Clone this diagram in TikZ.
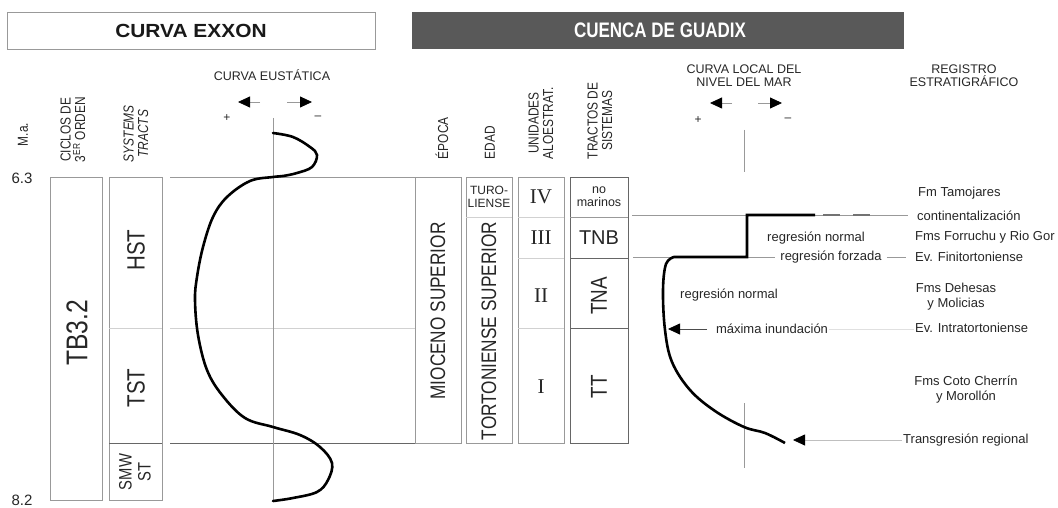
\documentclass[tikz,border=0pt]{standalone}
\usepackage{fontspec}
\setmainfont{Liberation Sans}
\newfontfamily\romfont{Liberation Serif}
\usetikzlibrary{arrows.meta}
\newcommand{\fsz}[2]{\fontsize{#1}{#2}\selectfont}
\begin{document}
\begin{tikzpicture}[x=1pt,y=-1pt,
  frame/.style={draw=black!40, line width=0.8pt},
  faint/.style={draw=black!18, line width=0.8pt},
  firm/.style={draw=black!60, line width=0.8pt},
  bigcurve/.style={line width=2.6pt, black, line cap=round},
  lbl/.style={text=black!85, inner sep=1pt, font=\fsz{12.5}{14}},
  vtxt/.style={rotate=90, xscale=0.82},
  colhead/.style={lbl, vtxt, anchor=west, align=center, font=\fsz{14.5}{14.5}},
  roman/.style={text=black!85, inner sep=1pt, font=\romfont\fsz{21}{21}},
  tri/.style={-{Triangle[length=12pt,width=11pt,color=black]}},
  sign/.style={lbl, font=\fsz{12}{12}},
]
\useasboundingbox (0,0) rectangle (1058,508);

% ---- headers
\draw[frame] (7,12) rectangle (375,49);
\node[text=black!90, inner sep=0pt, xscale=1.1, font=\bfseries\fsz{19}{19}] (exxon) at (191,30.5) {CURVA EXXON};
\fill[black!65] (412,12) rectangle (904,49);
\node[text=white, inner sep=0pt, xscale=0.81, font=\bfseries\fsz{21}{21}] (guadix) at (660,30.5) {CUENCA DE GUADIX};

% ---- column headings
\node[colhead] (ma) at (23,147) {M.a.};
\node[colhead] (ciclos) at (73,163) {CICLOS DE\\3\textsuperscript{ER} ORDEN};
\node[colhead, font=\fsz{14.5}{14.5}\itshape] (systems) at (136,163) {SYSTEMS\\TRACTS};
\node[colhead] (epoca) at (442,160) {ÉPOCA};
\node[colhead] (edad) at (490,160) {EDAD};
\node[colhead] (unid) at (541,160) {UNIDADES\\ALOESTRAT.};
\node[colhead] (tract) at (600,160) {TRACTOS DE\\SISTEMAS};
\node[lbl] (ceust) at (272,75) {CURVA EUSTÁTICA};
\node[lbl, align=center, font=\fsz{12.5}{13}] (clocal) at (744,76) {CURVA LOCAL DEL\\NIVEL DEL MAR};
\node[lbl, align=center, font=\fsz{12.5}{13}] (regis) at (964,76) {REGISTRO\\ESTRATIGRÁFICO};

% small direction arrows
\coordinate (a1s) at (260,102); \coordinate (a1e) at (238,102);
\coordinate (a2s) at (287,102); \coordinate (a2e) at (312,102);
\draw[frame, tri] (a1s) -- (a1e);
\draw[frame, tri] (a2s) -- (a2e);
\node[sign] (plus1) at (227,118) {+};
\node[sign] (minus1) at (318,118) {–};
\coordinate (b1s) at (732,103); \coordinate (b1e) at (710,103);
\coordinate (b2s) at (758,103); \coordinate (b2e) at (782,103);
\draw[frame, tri] (b1s) -- (b1e);
\draw[frame, tri] (b2s) -- (b2e);
\node[sign] (plus2) at (698,120) {+};
\node[sign] (minus2) at (788,120) {–};

% ---- ages
\node[lbl, font=\fsz{15}{15}] (t63) at (22,178) {6.3};
\node[lbl, font=\fsz{15}{15}] (t82) at (22,500) {8.2};

% ---- Exxon columns
\draw[frame] (50,177) rectangle (102,500);
\node[lbl, vtxt, font=\fsz{30}{30}] (tb) at (77,333) {TB3.2};
\draw[frame] (109,177) rectangle (162,500);
\draw[faint] (109,328) -- (162,328);
\draw[firm] (109,443) -- (162,443);
\node[lbl, vtxt, font=\fsz{25}{25}] (hst) at (136,250) {HST};
\node[lbl, vtxt, font=\fsz{25}{25}] (tst) at (136,388) {TST};
\node[lbl, vtxt, align=center, font=\fsz{18}{19}] (smw) at (135,472) {SMW\\ST};

\draw[frame] (170,177) -- (415,177);
\draw[faint] (170,328) -- (415,328);
\draw[firm] (170,443) -- (415,443);
\draw[frame] (273,118) -- (273,500);

\draw[bigcurve] plot[smooth, tension=0.6] coordinates {(273,133) (293,137) (310,147) (317,155) (312,167) (297,173) (283,176) (273,177) (250,181) (227,197) (213,217) (203,247) (197,277) (195,300) (198,335) (207,370) (222,395) (245,418) (273,427) (300,435) (320,447) (332,463) (328,480) (317,492) (293,498) (273,501)};

% ---- Guadix columns
\draw[frame] (415,177) rectangle (461,443);
\node[lbl, vtxt, font=\fsz{21}{21}] (mioc) at (438,311) {MIOCENO SUPERIOR};
\draw[frame] (466,177) rectangle (512,443);
\draw[faint] (466,217) -- (512,217);
\node[lbl, align=center, font=\fsz{12}{13}] (turo) at (489,197) {TURO-\\LIENSE};
\node[lbl, vtxt, font=\fsz{21}{21}] (tort) at (489,331) {TORTONIENSE SUPERIOR};
\draw[frame] (518,177) rectangle (564,443);
\draw[faint] (518,217) -- (564,217);
\draw[faint] (518,258) -- (564,258);
\draw[faint] (518,328) -- (564,328);
\node[roman] (u4) at (541,197) {IV};
\node[roman] (u3) at (541,238) {III};
\node[roman] (u2) at (541,296) {II};
\node[roman] (u1) at (541,387) {I};
\draw[firm] (570,177) rectangle (628,443);
\draw[frame] (570,217) -- (628,217);
\draw[firm] (570,258) -- (628,258);
\draw[firm] (570,328) -- (628,328);
\node[lbl, align=center, font=\fsz{12.5}{13}] (nomar) at (599,197) {no\\marinos};
\node[lbl, font=\fsz{20}{20}] (tnb) at (599,238) {TNB};
\node[lbl, vtxt, font=\fsz{23}{23}] (tna) at (599,296) {TNA};
\node[lbl, vtxt, font=\fsz{23}{23}] (tt) at (599,387) {TT};

% ---- right labels
\node[lbl, anchor=west, font=\fsz{13}{15}] (tamo) at (917,193) {Fm Tamojares};
\node[lbl, anchor=west, font=\fsz{13}{15}] (cont) at (916,216) {continentalización};
\node[lbl, anchor=west, font=\fsz{13}{15}] (forr) at (914,237) {Fms Forruchu y Rio Gor};
\node[lbl, anchor=west, font=\fsz{13}{15}] (evfin) at (914,257) {Ev. Finitortoniense};
\node[lbl, align=center, font=\fsz{13}{15}] (dehe) at (956,297) {Fms Dehesas\\y Molicias};
\node[lbl, anchor=west, font=\fsz{13}{15}] (evint) at (914,328) {Ev. Intratortoniense};
\node[lbl, align=center, font=\fsz{13}{15}] (coto) at (966,390) {Fms Coto Cherrín\\y Morollón};
\node[lbl, anchor=west, font=\fsz{13}{15}] (trans) at (902,440) {Transgresión regional};

\node[lbl, font=\fsz{13}{15}] (rnorm1) at (816,238) {regresión normal};
\node[lbl, inner sep=5pt, font=\fsz{13}{15}] (forz) at (831,257) {regresión forzada};
\node[lbl, font=\fsz{13}{15}] (rnorm2) at (729,295) {regresión normal};
\node[lbl, font=\fsz{13}{15}] (maxi) at (772,329) {máxima inundación};

% ---- horizontal reference lines
\coordinate (l1) at (632,215);
\coordinate (l2) at (633,257);
\draw[frame, shorten >=8pt] (l1) -- (cont.west |- l1);
\draw[frame] (l2) -- (forz.west |- l2);
\draw[frame, shorten >=8pt] (forz.east |- l2) -- (evfin.west |- l2);

% vertical reference
\draw[frame] (744,130) -- (744,172);
\draw[frame] (744,403) -- (744,468);

% local sea-level curve
\draw[bigcurve, line cap=butt, line join=miter] (815,215) -- (747,215) -- (747,257) -- plot[smooth, tension=0.6] coordinates {(674,257) (666,264) (663,290) (665,330) (672,362) (690,390) (715,411) (744,427) (765,433) (785,443)};
\draw[line width=2.6pt, black!55] (823,215) -- (840,215);
\draw[line width=2.6pt, black!55] (853,215) -- (870,215);

% arrows to the curve
\coordinate (m0) at (707,329); \coordinate (m1) at (668,329);
\draw[draw=black!70, line width=0.8pt, tri] (m0) -- (m1);
\draw[draw=black!12, line width=0.8pt] (maxi.east) -- (evint.west |- maxi.east);
\coordinate (tr1) at (793,440);
\draw[draw=black!25, line width=0.8pt, tri] (trans.west) -- (tr1);
\end{tikzpicture}
\end{document}
